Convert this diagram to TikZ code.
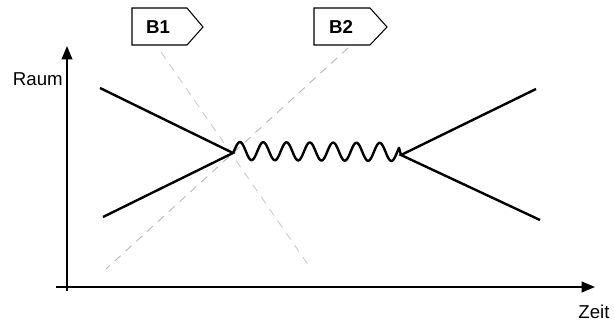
\documentclass[tikz,border=0pt]{standalone}
\usepackage{fontspec}
\setmainfont{Liberation Sans}
\usetikzlibrary{arrows.meta}
\begin{document}
\begin{tikzpicture}[x=0.75pt,y=-0.75pt,
  axis/.style={line width=1.1pt,-{Triangle[length=10pt,width=8pt]}},
  world/.style={line width=1.8pt},
  guide/.style={gray!55,line width=0.7pt,dash pattern=on 6pt off 5pt},
  tag/.style={draw,line width=0.8pt},
  lbl/.style={font=\fontsize{14}{16}\selectfont,inner sep=0pt},
  tagtext/.style={font=\fontsize{14}{16}\selectfont\bfseries,inner sep=0pt}]
\useasboundingbox (0,0) rectangle (614,331);
% axes
\coordinate (yo) at (67,291);
\coordinate (yt) at (67,46);
\coordinate (xo) at (56,287);
\coordinate (xt) at (595,287);
\draw[axis] (yo) -- (yt);
\draw[axis] (xo) -- (xt);
\node[lbl,anchor=east] (raum) at (63,79) {Raum};
\node[lbl] (zeit) at (594,312) {Zeit};
% tags
\draw[tag] (132,8) -- (187,8) -- (203,27) -- (187,45) -- (132,45) -- cycle;
\node[tagtext] (b1) at (158,27) {B1};
\draw[tag] (314,8) -- (370,8) -- (387,27) -- (370,45) -- (314,45) -- cycle;
\node[tagtext] (b2) at (341,27) {B2};
% guide lines
\coordinate (g1a) at (161,52);
\coordinate (g1b) at (309,266);
\coordinate (g2a) at (348,48);
\coordinate (g2b) at (106,269);
\draw[guide,gray!40] (g1a) -- (g1b);
\draw[guide] (g2a) -- (g2b);
% world lines
\coordinate (j1) at (233,153);
\coordinate (j2) at (401,155);
\coordinate (a1) at (100,88);
\coordinate (a2) at (103,217);
\coordinate (c1) at (536,89);
\coordinate (c2) at (540,220);
\draw[world] (a1) -- (j1) -- (a2);
\draw[world] (c1) -- (j2) -- (c2);
% photon
\draw[world,line join=round] (j1) -- plot[smooth,domain=2:166,samples=220]
  ({233+\x},{151+\x/168 - 9*sin(15.45*\x - 17)}) -- (j2);
\end{tikzpicture}
\end{document}
